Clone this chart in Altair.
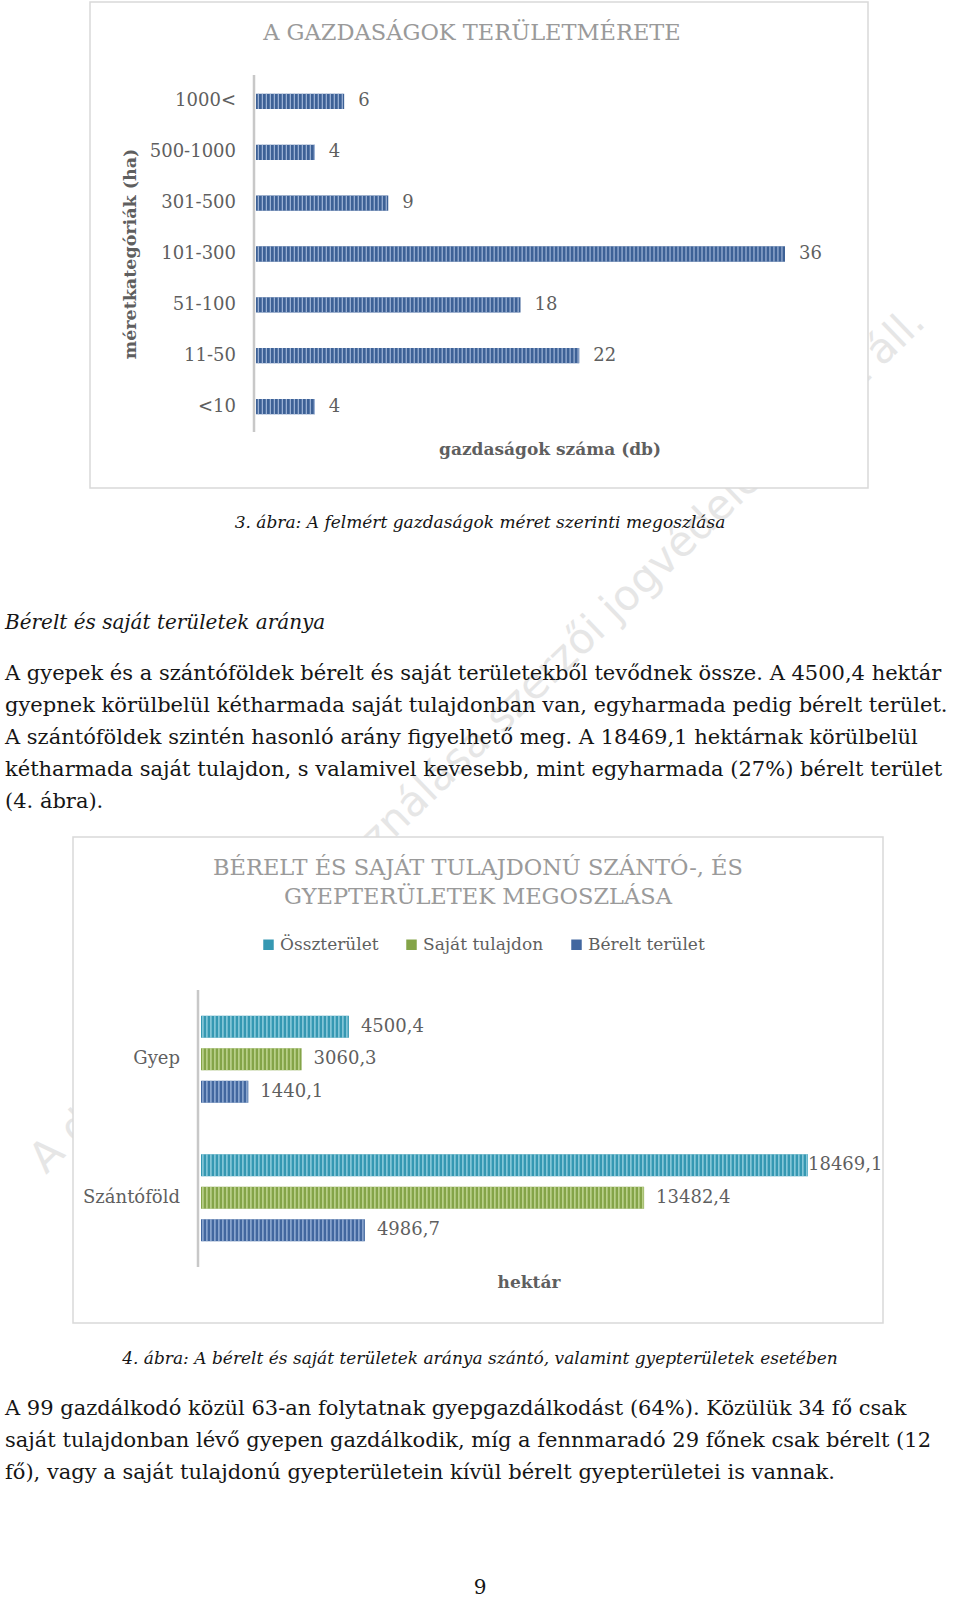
import altair as alt
import pandas as pd

FONT = "DejaVu Serif"

# ---------------- data: chart 1 ----------------
size_cats = ["1000<", "500-1000", "301-500", "101-300", "51-100", "11-50", "<10"]
size_counts = [6, 4, 9, 36, 18, 22, 4]

# ---------------- data: chart 2 ----------------
land_types = ["Gyep", "Szántóföld"]
series_names = ["Összterület", "Saját tulajdon", "Bérelt terület"]
gyep_vals = [4500.4, 3060.3, 1440.1]
szanto_vals = [18469.1, 13482.4, 4986.7]
series_colors = ["#3598b2", "#84a448", "#42679f"]
stripe_colors = ["#a6dae8", "#d0e2a6", "#a9c0e3"]

# ---------------- page texts ----------------
title1 = "A GAZDASÁGOK TERÜLETMÉRETE"
title2_lines = ["BÉRELT ÉS SAJÁT TULAJDONÚ SZÁNTÓ-, ÉS", "GYEPTERÜLETEK MEGOSZLÁSA"]
y_title1 = "méretkategóriák (ha)"
x_title1 = "gazdaságok száma (db)"
x_title2 = "hektár"
caption1 = "3. ábra: A felmért gazdaságok méret szerinti megoszlása"
caption2 = "4. ábra: A bérelt és saját területek aránya szántó, valamint gyepterületek esetében"
heading = "Bérelt és saját területek aránya"
para1 = [
    "A gyepek és a szántóföldek bérelt és saját területekből tevődnek össze. A 4500,4 hektár",
    "gyepnek körülbelül kétharmada saját tulajdonban van, egyharmada pedig bérelt terület.",
    "A szántóföldek szintén hasonló arány figyelhető meg. A 18469,1 hektárnak körülbelül",
    "kétharmada saját tulajdon, s valamivel kevesebb, mint egyharmada (27%) bérelt terület",
    "(4. ábra).",
]
para2 = [
    "A 99 gazdálkodó közül 63-an folytatnak gyepgazdálkodást (64%). Közülük 34 fő csak",
    "saját tulajdonban lévő gyepen gazdálkodik, míg a fennmaradó 29 főnek csak bérelt (12",
    "fő), vagy a saját tulajdonú gyepterületein kívül bérelt gyepterületei is vannak.",
]
page_no = "9"
watermark = "A dokumentum felhasználása szerzői jogvédelem alatt áll."

LABEL = "#5f5f5f"
TITLE = "#9a9a9a"
INK = "#151515"


def one():
    return alt.Data(values=[{"_": 0}])


def label(text, x, y, size, color, align="center", weight="normal", style="normal", angle=0,
          font=FONT, baseline="middle"):
    kw = dict(text=text, font=font, fontSize=size, color=color, align=align,
              baseline=baseline, fontWeight=weight, fontStyle=style)
    if angle:
        kw["angle"] = angle
    return alt.Chart(one()).mark_text(**kw).encode(x=alt.value(x), y=alt.value(y))


def frame(x0, x1, y0, y1):
    return alt.Chart(one()).mark_rect(fill="white", stroke="#d9d9d9", strokeWidth=1.5).encode(
        x=alt.value(x0), x2=alt.value(x1), y=alt.value(y0), y2=alt.value(y1))


def vrule(x, y0, y1):
    return alt.Chart(one()).mark_rule(color="#c8c8c8", strokeWidth=2.5).encode(
        x=alt.value(x), y=alt.value(y0), y2=alt.value(y1))


def para(lines, y0, y1, size=21):
    df = pd.DataFrame({"i": list(range(len(lines))), "t": lines})
    return alt.Chart(df).mark_text(align="left", baseline="middle", font=FONT, fontSize=size,
                                   color=INK).encode(
        x=alt.value(5),
        y=alt.Y("i:O", scale=alt.Scale(type="point", range=[y0, y1], padding=0), axis=None),
        text="t:N")


layers = []

# faint diagonal watermark (behind everything)
layers.append(label(watermark, 46, 1175, 42, "#e6e6e6", align="left", angle=316,
                    font="DejaVu Sans", baseline="alphabetic"))

# ================= chart 1 =================
df1 = pd.DataFrame({"cat": size_cats, "v": size_counts})
X1 = alt.X("v:Q", scale=alt.Scale(domain=[0, 36], range=[256, 785], nice=False), axis=None)
Y1 = alt.Y("cat:N", sort=size_cats,
           scale=alt.Scale(type="band", domain=size_cats, range=[76, 432],
                           paddingInner=0.7, paddingOuter=0.35),
           axis=None)

layers.append(frame(90, 868, 2, 488))
layers.append(label(title1, 472, 33, 22.5, TITLE))
layers.append(vrule(254, 75, 432))
layers.append(alt.Chart(df1).mark_bar(color="#3d6196").encode(x=X1, y=Y1))
layers.append(
    alt.Chart(df1)
    .transform_calculate(s="sequence(0.12, datum.v - 0.05, 0.272)")
    .transform_flatten(["s"])
    .transform_calculate(s2="datum.s + 0.08")
    .mark_rect(color="#a3b8da")
    .encode(x=alt.X("s:Q", scale=alt.Scale(domain=[0, 36], range=[256, 785], nice=False), axis=None),
            x2="s2:Q", y=Y1)
)
layers.append(alt.Chart(df1).mark_text(align="left", baseline="middle", dx=14, font=FONT,
                                        fontSize=18, color=LABEL).encode(x=X1, y=Y1, text="v:Q"))
layers.append(alt.Chart(df1).mark_text(align="right", baseline="middle", font=FONT,
                                        fontSize=18, color=LABEL).encode(
    x=alt.value(236), y=Y1, text="cat:N"))
layers.append(label(y_title1, 131, 254, 17.5, LABEL, weight="bold", angle=270))
layers.append(label(x_title1, 550, 450, 17, LABEL, weight="bold"))

# ================= page text between charts =================
layers.append(label(caption1, 480, 523, 17, INK, style="italic"))
layers.append(label(heading, 5, 623, 20, INK, align="left", style="italic"))
layers.append(para(para1, 674, 802))

# ================= chart 2 =================
rows = []
for g, vals in zip(land_types, [gyep_vals, szanto_vals]):
    for s, v in zip(series_names, vals):
        rows.append({"grp": g, "ser": s, "v": v, "lab": f"{v:.1f}".replace(".", ",")})
df2 = pd.DataFrame(rows)


def X2(field="v"):
    return alt.X(f"{field}:Q", scale=alt.Scale(domain=[0, 18469.1], range=[201, 808], nice=False),
                 axis=None)


Y2 = alt.Y("grp:N", sort=land_types,
           scale=alt.Scale(type="band", domain=land_types, range=[990, 1267],
                           paddingInner=0, paddingOuter=0),
           axis=None)
YO2 = alt.YOffset("ser:N", sort=series_names,
                  scale=alt.Scale(type="band", domain=series_names,
                                  paddingInner=0.323, paddingOuter=0.79))

layers.append(frame(73, 883, 837, 1323))
layers.append(label(title2_lines[0], 478, 868, 22.5, TITLE))
layers.append(label(title2_lines[1], 478, 897, 22.5, TITLE))
layers.append(vrule(198, 990, 1267))
layers.append(
    alt.Chart(df2).mark_bar().encode(
        x=X2(), y=Y2, yOffset=YO2,
        color=alt.Color("ser:N", sort=series_names,
                        scale=alt.Scale(domain=series_names, range=series_colors),
                        legend=alt.Legend(orient="none", legendX=260, legendY=936,
                                          direction="horizontal", title=None,
                                          symbolType="square", symbolSize=110,
                                          symbolStrokeWidth=0,
                                          labelFont=FONT, labelFontSize=17, labelColor=LABEL,
                                          columnPadding=24, labelOffset=3)))
)
layers.append(
    alt.Chart(df2)
    .transform_calculate(s="sequence(40, datum.v - 20, 121.7)")
    .transform_flatten(["s"])
    .transform_calculate(s2="datum.s + 36")
    .mark_rect()
    .encode(x=X2("s"), x2="s2:Q", y=Y2, yOffset=YO2,
            color=alt.Color("ser:N", sort=series_names,
                            scale=alt.Scale(domain=series_names, range=stripe_colors), legend=None))
)
layers.append(
    alt.Chart(df2)
    .transform_calculate(lx="datum.v > 15000 ? datum.v : datum.v + 365")
    .mark_text(align="left", baseline="middle", font=FONT, fontSize=18, color=LABEL)
    .encode(x=X2("lx"), y=Y2, yOffset=YO2, text="lab:N")
)
layers.append(
    alt.Chart(df2)
    .transform_filter(alt.datum.ser == series_names[0])
    .mark_text(align="right", baseline="middle", font=FONT, fontSize=18, color=LABEL)
    .encode(x=alt.value(180), y=Y2, text="grp:N"))
layers.append(label(x_title2, 529, 1283, 17, LABEL, weight="bold"))

# ================= page text after chart 2 =================
layers.append(label(caption2, 480, 1359, 17, INK, style="italic"))
layers.append(para(para2, 1409, 1473))
layers.append(label(page_no, 480, 1588, 20, INK))

chart = (
    alt.layer(*layers)
    .resolve_scale(x="independent", y="independent", color="independent", yOffset="independent")
    .properties(width=960, height=1599, autosize=alt.AutoSizeParams(type="none"), padding=0,
                background="white")
    .configure_view(stroke=None)
)

chart.save("out.html", embed_options={"renderer": "svg", "actions": False})
